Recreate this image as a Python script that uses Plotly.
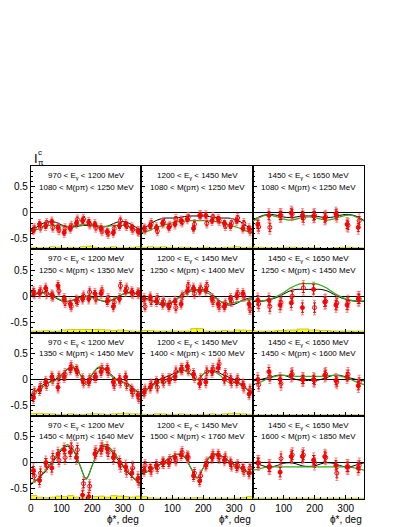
import plotly.graph_objects as go

W, H = 407, 527

# ---------------- data ----------------
phi18 = [10, 30, 50, 70, 90, 110, 130, 150, 170, 190, 210, 230, 250, 270, 290, 310, 330, 350]
phi10 = [18, 54, 90, 126, 162, 198, 234, 270, 306, 342]
phi_curve = [0, 20, 40, 60, 80, 100, 120, 140, 160, 180, 200, 220, 240, 260, 280, 300, 320, 340, 360]

e_labels = ["970 &lt; E<sub>γ</sub> &lt; 1200 MeV",
            "1200 &lt; E<sub>γ</sub> &lt; 1450 MeV",
            "1450 &lt; E<sub>γ</sub> &lt; 1650 MeV"]
m_labels_c1 = ["1080 &lt; M(pπ) &lt; 1250 MeV", "1250 &lt; M(pπ) &lt; 1350 MeV",
               "1350 &lt; M(pπ) &lt; 1450 MeV", "1450 &lt; M(pπ) &lt; 1640 MeV"]
m_labels_c2 = ["1080 &lt; M(pπ) &lt; 1250 MeV", "1250 &lt; M(pπ) &lt; 1400 MeV",
               "1400 &lt; M(pπ) &lt; 1500 MeV", "1500 &lt; M(pπ) &lt; 1760 MeV"]
m_labels_c3 = ["1080 &lt; M(pπ) &lt; 1250 MeV", "1250 &lt; M(pπ) &lt; 1450 MeV",
               "1450 &lt; M(pπ) &lt; 1600 MeV", "1600 &lt; M(pπ) &lt; 1850 MeV"]

x_ticks = [0, 100, 200, 300]
y_ticks = [-0.5, 0, 0.5]
y_ticktext = ["-0.5", "0", "0.5"]

# row 1
filled_r1c1 = [-0.33, -0.22, -0.25, -0.17, -0.28, -0.38, -0.30, -0.20, -0.15, -0.18, -0.22, -0.30, -0.36, -0.38, -0.25, -0.22, -0.28, -0.35]
open_r1c1 = [-0.30, -0.28, -0.20, -0.28, -0.33, -0.30, -0.25, -0.13, -0.12, -0.22, -0.28, -0.35, -0.40, -0.30, -0.15, -0.25, -0.32, -0.36]
black_r1c1 = [-0.35, -0.27, -0.20, -0.17, -0.18, -0.23, -0.27, -0.27, -0.25, -0.24, -0.25, -0.27, -0.27, -0.23, -0.18, -0.17, -0.20, -0.27, -0.35]
green_r1c1 = [-0.36, -0.32, -0.27, -0.24, -0.24, -0.25, -0.26, -0.25, -0.23, -0.22, -0.23, -0.25, -0.26, -0.25, -0.24, -0.24, -0.27, -0.32, -0.36]
syst_r1c1 = [0.04, 0.03, 0.03, 0.05, 0.04, 0.03, 0.04, 0.03, 0.05, 0.06, 0.04, 0.03, 0.04, 0.05, 0.03, 0.03, 0.04, 0.05]

filled_r1c2 = [-0.30, -0.25, -0.28, -0.20, -0.28, -0.22, -0.15, -0.12, -0.30, -0.05, -0.05, -0.15, -0.12, -0.20, -0.25, -0.15, -0.30, -0.30]
open_r1c2 = [-0.32, -0.20, -0.35, -0.18, -0.25, -0.12, -0.18, -0.08, -0.22, -0.05, -0.20, -0.08, -0.15, -0.25, -0.20, -0.10, -0.20, -0.35]
black_r1c2 = [-0.33, -0.25, -0.17, -0.12, -0.10, -0.10, -0.09, -0.07, -0.06, -0.06, -0.06, -0.07, -0.09, -0.10, -0.10, -0.12, -0.17, -0.25, -0.33]
green_r1c2 = [-0.38, -0.35, -0.30, -0.26, -0.22, -0.19, -0.17, -0.16, -0.15, -0.15, -0.15, -0.16, -0.17, -0.19, -0.22, -0.26, -0.30, -0.35, -0.38]
syst_r1c2 = [0.04, 0.05, 0.04, 0.05, 0.04, 0.03, 0.04, 0.04, 0.03, 0.03, 0.04, 0.03, 0.03, 0.04, 0.04, 0.05, 0.03, 0.04]

filled_r1c3 = [-0.22, -0.05, -0.05, 0.00, -0.05, -0.06, -0.10, -0.02, -0.22, -0.28]
open_r1c3 = [-0.27, -0.28, -0.05, -0.02, -0.10, -0.05, -0.08, -0.05, -0.24, -0.15]
black_r1c3 = [-0.15, -0.08, -0.04, -0.03, -0.05, -0.08, -0.09, -0.08, -0.06, -0.06, -0.06, -0.08, -0.09, -0.08, -0.05, -0.03, -0.04, -0.08, -0.15]
green_r1c3 = [-0.16, -0.10, -0.05, -0.05, -0.08, -0.12, -0.14, -0.12, -0.09, -0.08, -0.09, -0.12, -0.14, -0.12, -0.08, -0.05, -0.05, -0.10, -0.16]
syst_r1c3 = [0.04, 0.03, 0.03, 0.04, 0.03, 0.03, 0.02, 0.03, 0.04, 0.03]

# row 2
filled_r2c1 = [0.08, 0.06, 0.15, 0.02, 0.20, -0.05, -0.15, -0.08, -0.05, -0.05, 0.05, 0.05, -0.10, -0.20, -0.05, 0.10, 0.08, 0.06]
open_r2c1 = [0.05, 0.10, 0.05, 0.00, 0.10, -0.12, -0.20, -0.10, 0.00, 0.08, -0.05, 0.10, -0.05, -0.12, 0.20, 0.15, 0.05, 0.05]
black_r2c1 = [0.00, 0.05, 0.07, 0.04, -0.03, -0.09, -0.10, -0.07, -0.02, 0.00, -0.02, -0.07, -0.10, -0.09, -0.03, 0.04, 0.07, 0.05, 0.00]
green_r2c1 = [0.02, 0.05, 0.06, 0.04, -0.02, -0.08, -0.10, -0.07, -0.03, -0.01, -0.03, -0.07, -0.10, -0.08, -0.02, 0.04, 0.06, 0.05, 0.02]
syst_r2c1 = [0.03, 0.03, 0.04, 0.03, 0.03, 0.05, 0.06, 0.06, 0.06, 0.06, 0.06, 0.06, 0.05, 0.04, 0.05, 0.04, 0.03, 0.03]

filled_r2c2 = [-0.05, -0.02, -0.10, -0.15, -0.20, -0.10, -0.15, 0.10, 0.15, 0.10, 0.12, -0.05, -0.15, -0.20, -0.05, 0.00, 0.05, -0.15]
open_r2c2 = [-0.20, -0.10, -0.05, -0.10, -0.15, -0.22, 0.00, 0.20, 0.05, 0.15, 0.20, -0.10, -0.20, -0.15, -0.10, 0.05, 0.00, -0.25]
black_r2c2 = [-0.03, -0.05, -0.10, -0.16, -0.17, -0.12, -0.02, 0.08, 0.12, 0.12, 0.12, 0.08, -0.02, -0.12, -0.17, -0.16, -0.10, -0.05, -0.03]
green_r2c2 = [-0.06, -0.07, -0.10, -0.13, -0.14, -0.11, -0.04, 0.04, 0.09, 0.11, 0.09, 0.04, -0.04, -0.11, -0.14, -0.13, -0.10, -0.07, -0.06]
syst_r2c2 = [0.04, 0.04, 0.03, 0.03, 0.03, 0.03, 0.03, 0.03, 0.08, 0.08, 0.03, 0.03, 0.03, 0.04, 0.03, 0.05, 0.05, 0.04]

filled_r2c3 = [-0.08, -0.08, -0.17, -0.13, -0.22, 0.13, -0.11, -0.17, -0.17, -0.05]
open_r2c3 = [-0.15, -0.20, -0.12, 0.00, 0.16, -0.22, -0.10, -0.13, -0.12, -0.05]
black_r2c3 = [-0.10, -0.10, -0.09, -0.06, -0.02, 0.04, 0.10, 0.13, 0.13, 0.13, 0.13, 0.13, 0.10, 0.04, -0.02, -0.06, -0.09, -0.10, -0.10]
green_r2c3 = [-0.09, -0.09, -0.08, -0.05, 0.00, 0.07, 0.15, 0.21, 0.24, 0.24, 0.24, 0.21, 0.15, 0.07, 0.00, -0.05, -0.08, -0.09, -0.09]
syst_r2c3 = [0.03, 0.03, 0.04, 0.05, 0.07, 0.05, 0.04, 0.03, 0.03, 0.03]

# row 3
filled_r3c1 = [-0.35, -0.20, -0.05, 0.05, -0.15, 0.05, 0.20, 0.18, 0.00, -0.05, 0.05, 0.15, 0.20, -0.05, 0.00, 0.05, -0.20, -0.30]
open_r3c1 = [-0.25, -0.15, -0.10, 0.00, 0.05, 0.10, 0.25, 0.15, -0.05, 0.00, 0.05, 0.20, 0.15, -0.10, -0.05, -0.10, -0.25, -0.35]
black_r3c1 = [-0.30, -0.20, -0.10, -0.05, 0.00, 0.10, 0.20, 0.22, 0.10, -0.10, 0.10, 0.22, 0.20, 0.10, 0.00, -0.05, -0.10, -0.20, -0.30]
green_r3c1 = [-0.28, -0.22, -0.14, -0.06, -0.02, 0.08, 0.20, 0.24, 0.10, -0.10, 0.10, 0.24, 0.20, 0.08, -0.02, -0.06, -0.14, -0.22, -0.28]
syst_r3c1 = [0.05, 0.05, 0.04, 0.04, 0.03, 0.03, 0.04, 0.03, 0.03, 0.04, 0.04, 0.04, 0.03, 0.04, 0.05, 0.05, 0.04, 0.04]

filled_r3c2 = [-0.25, -0.15, -0.05, 0.00, 0.00, 0.05, 0.20, 0.25, 0.10, -0.08, -0.05, 0.15, 0.22, 0.00, 0.00, -0.05, -0.10, -0.28]
open_r3c2 = [-0.20, -0.10, -0.15, -0.05, 0.00, 0.15, 0.20, 0.18, 0.05, 0.00, 0.15, 0.20, 0.30, 0.10, -0.05, 0.00, -0.15, -0.20]
black_r3c2 = [-0.27, -0.18, -0.08, 0.00, 0.05, 0.10, 0.16, 0.17, 0.10, 0.00, 0.10, 0.17, 0.16, 0.10, 0.05, 0.00, -0.08, -0.18, -0.27]
green_r3c2 = [-0.25, -0.18, -0.10, -0.05, -0.05, 0.05, 0.14, 0.17, 0.10, -0.01, 0.10, 0.17, 0.14, 0.05, -0.05, -0.05, -0.10, -0.18, -0.25]
syst_r3c2 = [0.03, 0.03, 0.04, 0.04, 0.03, 0.03, 0.04, 0.03, 0.03, 0.03, 0.03, 0.04, 0.03, 0.04, 0.05, 0.05, 0.04, 0.03]

filled_r3c3 = [0.00, 0.15, 0.00, 0.08, 0.00, 0.00, 0.08, -0.02, 0.05, -0.12]
open_r3c3 = [-0.10, 0.05, -0.08, 0.10, 0.00, -0.02, 0.10, -0.05, 0.10, -0.05]
black_r3c3 = [-0.03, -0.01, 0.02, 0.05, 0.08, 0.08, 0.04, 0.00, -0.02, -0.02, -0.02, 0.00, 0.04, 0.08, 0.08, 0.05, 0.02, -0.01, -0.03]
green_r3c3 = [-0.10, -0.06, -0.01, 0.04, 0.07, 0.08, 0.07, 0.06, 0.06, 0.06, 0.06, 0.06, 0.07, 0.08, 0.07, 0.04, -0.01, -0.06, -0.10]
syst_r3c3 = [0.02, 0.02, 0.02, 0.02, 0.02, 0.02, 0.02, 0.02, 0.02, 0.02]

# row 4
filled_r4c1 = [-0.15, -0.34, 0.00, -0.10, 0.17, 0.25, 0.20, 0.10, -0.62, -0.65, 0.17, 0.25, 0.27, 0.10, 0.00, -0.08, -0.20, -0.30]
open_r4c1 = [-0.25, -0.20, -0.05, 0.10, 0.05, 0.10, 0.30, 0.25, -0.40, -0.45, 0.20, 0.30, 0.20, 0.15, -0.05, -0.15, -0.10, -0.35]
black_r4c1 = [-0.42, -0.33, -0.22, -0.07, 0.08, 0.24, 0.32, 0.22, -0.05, -0.30, -0.05, 0.22, 0.32, 0.24, 0.08, -0.07, -0.22, -0.33, -0.42]
green_r4c1 = [-0.40, -0.32, -0.20, -0.05, 0.12, 0.27, 0.35, 0.24, -0.05, -0.32, -0.05, 0.24, 0.35, 0.27, 0.12, -0.05, -0.20, -0.32, -0.40]
syst_r4c1 = [0.07, 0.04, 0.03, 0.04, 0.06, 0.05, 0.07, 0.04, 0.03, 0.04, 0.05, 0.06, 0.04, 0.07, 0.06, 0.05, 0.04, 0.06]

filled_r4c2 = [-0.15, -0.10, -0.05, 0.00, 0.00, 0.10, 0.15, 0.12, -0.25, -0.35, -0.05, 0.10, 0.15, 0.05, 0.00, -0.08, -0.10, -0.20]
open_r4c2 = [-0.05, -0.15, -0.10, 0.00, 0.05, 0.05, 0.20, 0.10, -0.20, -0.25, 0.00, 0.15, 0.10, 0.10, -0.05, -0.05, -0.15, -0.10]
black_r4c2 = [-0.22, -0.17, -0.10, -0.03, 0.05, 0.13, 0.16, 0.10, -0.10, -0.28, -0.10, 0.10, 0.16, 0.13, 0.05, -0.03, -0.10, -0.17, -0.22]
green_r4c2 = [-0.20, -0.16, -0.10, -0.04, 0.04, 0.12, 0.17, 0.11, -0.10, -0.30, -0.10, 0.11, 0.17, 0.12, 0.04, -0.04, -0.10, -0.16, -0.20]
syst_r4c2 = [0.05, 0.03, 0.02, 0.02, 0.02, 0.02, 0.02, 0.02, 0.03, 0.03, 0.02, 0.02, 0.02, 0.02, 0.02, 0.02, 0.03, 0.05]

filled_r4c3 = [0.00, -0.08, -0.18, 0.12, 0.12, 0.05, 0.12, -0.05, -0.08, -0.10]
open_r4c3 = [0.00, -0.08, 0.08, 0.15, 0.15, 0.00, 0.10, -0.20, -0.08, -0.05]
black_r4c3 = [0.00, -0.03, -0.07, -0.08, -0.05, -0.01, 0.00, -0.02, -0.06, -0.07, -0.06, -0.02, 0.00, -0.01, -0.05, -0.08, -0.07, -0.03, 0.00]
green_r4c3 = [-0.14, -0.12, -0.09, -0.08, -0.08, -0.08, -0.08, -0.08, -0.08, -0.08, -0.08, -0.08, -0.08, -0.08, -0.08, -0.08, -0.09, -0.12, -0.14]
syst_r4c3 = [0.02, 0.02, 0.02, 0.02, 0.02, 0.02, 0.02, 0.02, 0.02, 0.02]

# statistical (inner) and total (outer) error sizes per row (cols 1..3)
err_inner = [[0.05, 0.05, 0.08], [0.06, 0.06, 0.09], [0.07, 0.07, 0.08], [0.08, 0.07, 0.09]]
err_outer = [[0.09, 0.09, 0.13], [0.10, 0.10, 0.14], [0.11, 0.11, 0.13], [0.13, 0.11, 0.14]]

panels = [
    [(filled_r1c1, open_r1c1, black_r1c1, green_r1c1, syst_r1c1),
     (filled_r1c2, open_r1c2, black_r1c2, green_r1c2, syst_r1c2),
     (filled_r1c3, open_r1c3, black_r1c3, green_r1c3, syst_r1c3)],
    [(filled_r2c1, open_r2c1, black_r2c1, green_r2c1, syst_r2c1),
     (filled_r2c2, open_r2c2, black_r2c2, green_r2c2, syst_r2c2),
     (filled_r2c3, open_r2c3, black_r2c3, green_r2c3, syst_r2c3)],
    [(filled_r3c1, open_r3c1, black_r3c1, green_r3c1, syst_r3c1),
     (filled_r3c2, open_r3c2, black_r3c2, green_r3c2, syst_r3c2),
     (filled_r3c3, open_r3c3, black_r3c3, green_r3c3, syst_r3c3)],
    [(filled_r4c1, open_r4c1, black_r4c1, green_r4c1, syst_r4c1),
     (filled_r4c2, open_r4c2, black_r4c2, green_r4c2, syst_r4c2),
     (filled_r4c3, open_r4c3, black_r4c3, green_r4c3, syst_r4c3)],
]
m_labels = [m_labels_c1, m_labels_c2, m_labels_c3]

# ---------------- layout geometry (pixels) ----------------
COL_X = [(28, 139.5), (139.5, 251.5), (251.5, 364)]
ROW_Y = [(166, 249.3), (249.3, 332.6), (332.6, 415.9), (415.9, 499.2)]
Y_MIN, Y_MAX = -0.7, 0.9
X_MIN, X_MAX = 0, 360

FONT = "Liberation Sans, Arial, sans-serif"
RED = "#ff0000"
RED_OUT = "rgba(255,90,90,0.75)"
GREEN = "#2fa81a"
YELLOW = "#ffff00"

fig = go.Figure()
layout = dict(width=W, height=H, margin=dict(l=0, r=0, t=0, b=0),
              paper_bgcolor="white", plot_bgcolor="white", showlegend=False,
              font=dict(family=FONT, color="black"))
annotations = []

def px2fx(x):
    return x / W

def px2fy(y):
    return 1 - y / H

y_minor = [round(-0.6 + 0.1 * i, 2) for i in range(15)]

for r in range(4):
    for c in range(3):
        k = r * 3 + c + 1
        xs = "" if k == 1 else str(k)
        xref, yref = "x" + xs, "y" + xs
        filled, opn, black, green, syst = panels[r][c]
        phis = phi18 if c < 2 else phi10
        bw = 20 if c < 2 else 36
        dx = 1.5

        # systematic band (yellow histogram)
        fig.add_trace(go.Bar(x=phis, y=syst, base=Y_MIN, width=bw,
                             marker=dict(color=YELLOW, line=dict(color="#a8a800", width=0.6)),
                             xaxis=xref, yaxis=yref, hoverinfo="skip"))
        # curves
        fig.add_trace(go.Scatter(x=phi_curve, y=black, mode="lines",
                                 line=dict(color="black", width=1, shape="spline", smoothing=1.0),
                                 xaxis=xref, yaxis=yref))
        fig.add_trace(go.Scatter(x=phi_curve, y=green, mode="lines",
                                 line=dict(color=GREEN, width=1.2, shape="spline", smoothing=1.0),
                                 xaxis=xref, yaxis=yref))
        eo = err_outer[r][c]
        ei = err_inner[r][c]
        for vals, sym, off in ((opn, "circle-open", dx), (filled, "circle", -dx)):
            xx = [p + off for p in phis]
            fig.add_trace(go.Scatter(x=xx, y=vals, mode="markers",
                                     marker=dict(size=1, color="rgba(0,0,0,0)"),
                                     error_y=dict(type="constant", value=eo, color=RED_OUT,
                                                  thickness=1, width=1.5),
                                     xaxis=xref, yaxis=yref))
            fig.add_trace(go.Scatter(x=xx, y=vals, mode="markers",
                                     marker=dict(size=4, color=RED, symbol=sym,
                                                 line=dict(color=RED, width=1)),
                                     error_y=dict(type="constant", value=ei, color="#e00000",
                                                  thickness=1, width=1.5),
                                     xaxis=xref, yaxis=yref))

        x0, x1 = COL_X[c]
        y0, y1 = ROW_Y[r]
        layout["xaxis" + xs] = dict(
            domain=[px2fx(x0), px2fx(x1)], range=[X_MIN, X_MAX], anchor=yref,
            showline=True, mirror=True, linecolor="black", linewidth=1,
            ticks="inside", ticklen=4, tickwidth=1, tickcolor="black",
            tickmode="array", tickvals=x_ticks, ticktext=[str(v) for v in x_ticks],
            minor=dict(ticks="inside", ticklen=2, tickmode="linear", tick0=0, dtick=20,
                       tickcolor="black", showgrid=False),
            showticklabels=(r == 3), tickfont=dict(size=10, family=FONT),
            showgrid=False, zeroline=False, fixedrange=True)
        layout["yaxis" + xs] = dict(
            domain=[px2fy(y1), px2fy(y0)], range=[Y_MIN, Y_MAX], anchor=xref,
            showline=True, mirror=True, linecolor="black", linewidth=1,
            ticks="inside", ticklen=4, tickwidth=1, tickcolor="black",
            tickmode="array", tickvals=y_ticks, ticktext=y_ticktext,
            minor=dict(ticks="inside", ticklen=2, tickmode="array", tickvals=y_minor,
                       tickcolor="black", showgrid=False),
            showticklabels=(c == 0), tickfont=dict(size=10, family=FONT),
            showgrid=False, zeroline=True, zerolinecolor="black", zerolinewidth=1,
            fixedrange=True)

        xc = (x0 + x1) / 2
        annotations.append(dict(x=px2fx(xc), y=px2fy(y0 + 10), xref="paper", yref="paper",
                                text=e_labels[c], showarrow=False, xanchor="center", yanchor="middle",
                                font=dict(size=8, family=FONT, color="black")))
        annotations.append(dict(x=px2fx(xc), y=px2fy(y0 + 21), xref="paper", yref="paper",
                                text=m_labels[c][r], showarrow=False, xanchor="center", yanchor="middle",
                                font=dict(size=8, family=FONT, color="black")))

for c in range(3):
    annotations.append(dict(x=px2fx(COL_X[c][1]), y=px2fy(519), xref="paper", yref="paper",
                            text="ϕ*, deg", showarrow=False, xanchor="right", yanchor="middle",
                            font=dict(size=10, family=FONT, color="black")))

# y-axis title I^c_pi
annotations.append(dict(x=px2fx(29), y=px2fy(158), xref="paper", yref="paper", text="I",
                        showarrow=False, xanchor="left", yanchor="middle",
                        font=dict(size=13, family=FONT, color="black")))
annotations.append(dict(x=px2fx(33), y=px2fy(153), xref="paper", yref="paper", text="c",
                        showarrow=False, xanchor="left", yanchor="middle",
                        font=dict(size=8, family=FONT, color="black")))
annotations.append(dict(x=px2fx(33), y=px2fy(162), xref="paper", yref="paper", text="π",
                        showarrow=False, xanchor="left", yanchor="middle",
                        font=dict(size=8, family=FONT, color="black")))

layout["annotations"] = annotations
layout["barmode"] = "overlay"
layout["hovermode"] = False
fig.update_layout(**layout)
fig.write_html("out.html", config={"displayModeBar": False, "staticPlot": True},
               post_script="document.body.style.margin='0';document.body.style.overflow='hidden';")
